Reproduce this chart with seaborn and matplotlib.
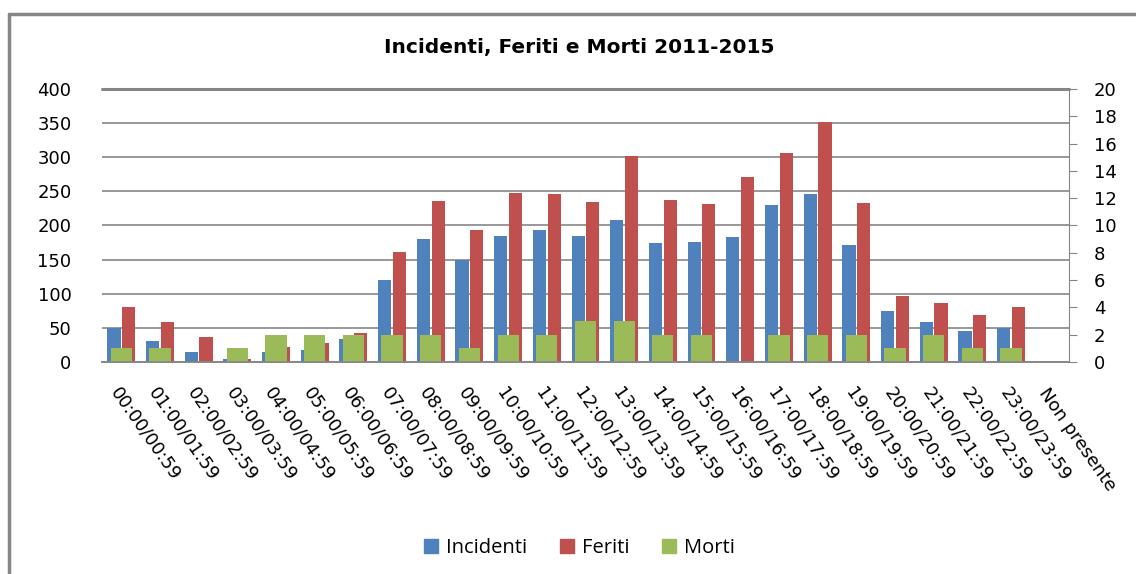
import matplotlib
matplotlib.use("Agg")
import matplotlib.pyplot as plt
import pandas as pd
import seaborn as sns
from matplotlib.lines import Line2D
from matplotlib.patches import Patch

# Fasce orarie
fasce = [
    "00:00/00:59", "01:00/01:59", "02:00/02:59", "03:00/03:59", "04:00/04:59",
    "05:00/05:59", "06:00/06:59", "07:00/07:59", "08:00/08:59", "09:00/09:59",
    "10:00/10:59", "11:00/11:59", "12:00/12:59", "13:00/13:59", "14:00/14:59",
    "15:00/15:59", "16:00/16:59", "17:00/17:59", "18:00/18:59", "19:00/19:59",
    "20:00/20:59", "21:00/21:59", "22:00/22:59", "23:00/23:59", "Non presente",
]
incidenti = [50, 31, 15, 5, 14, 18, 34, 120, 180, 150, 185, 194, 185, 208, 175,
             176, 183, 230, 246, 172, 75, 58, 46, 50, 0]
feriti = [80, 58, 36, 5, 22, 28, 43, 161, 236, 194, 248, 246, 235, 302, 238,
          232, 271, 306, 352, 233, 96, 87, 69, 80, 0]
morti = [1, 1, 0, 1, 2, 2, 2, 2, 2, 1, 2, 2, 3, 3, 2, 2, 0, 2, 2, 2, 1, 2, 1, 1, 0]

BLUE = "#4F81BD"
RED = "#C0504D"
GREEN = "#9BBB59"
GRID = "#868686"


def main():
    sns.set_style("white")
    plt.rcParams["font.family"] = ["DejaVu Sans"]
    plt.rcParams["text.color"] = "black"
    plt.rcParams["xtick.color"] = "black"
    plt.rcParams["ytick.color"] = "black"

    df = pd.DataFrame({"fascia": fasce, "Incidenti": incidenti, "Feriti": feriti})
    long_df = df.melt(id_vars="fascia", var_name="serie", value_name="valore")
    df_morti = pd.DataFrame({"fascia": fasce, "Morti": morti})

    fig = plt.figure(figsize=(11.36, 5.74), dpi=100)
    ax = fig.add_axes([0.0898, 0.3693, 0.8512, 0.4757])

    # gridlines first so bars sit on top
    for y in range(50, 400, 50):
        ax.axhline(y, color=GRID, lw=1.2, zorder=0)
    ax.axhline(400, color=GRID, lw=2.2, zorder=0, clip_on=False)

    sns.barplot(data=long_df, x="fascia", y="valore", hue="serie", order=fasce,
                palette=[BLUE, RED], width=0.76, gap=0.1, saturation=1,
                linewidth=0, legend=False, ax=ax, zorder=2)

    ax2 = ax.twinx()
    sns.barplot(data=df_morti, x="fascia", y="Morti", order=fasce, color=GREEN,
                width=0.55, saturation=1, linewidth=0, ax=ax2)

    # left axis
    ax.set_ylim(0, 400)
    ax.set_yticks(range(0, 401, 50))
    ax.set_xlim(-0.5, len(fasce) - 0.5)
    ax.set_xlabel("")
    ax.set_ylabel("")
    ax.tick_params(axis="y", length=0, pad=22, labelsize=13, labelcolor="black")

    # x axis labels and boundary ticks
    ax.set_xticks(range(len(fasce)))
    ax.set_xticklabels(fasce, rotation=-55, ha="left", va="top",
                       rotation_mode="anchor", fontsize=13, color="black")
    ax.tick_params(axis="x", length=0, pad=16)
    ax.set_xticks([i - 0.5 for i in range(len(fasce) + 1)], minor=True)
    ax.tick_params(axis="x", which="minor", length=5, color=GRID)

    # right axis
    ax2.set_ylim(0, 20)
    ax2.set_yticks(range(0, 21, 2))
    ax2.set_ylabel("")
    ax2.tick_params(axis="y", length=6, color=GRID, pad=12, labelsize=13,
                    labelcolor="black")

    for a in (ax, ax2):
        for side in ("top", "left", "right"):
            a.spines[side].set_visible(False)
        a.spines["bottom"].set_color(GRID)
        a.spines["bottom"].set_linewidth(1.2)
    ax2.spines["right"].set_visible(True)
    ax2.spines["right"].set_color(GRID)

    fig.text(0.51, 0.918, "Incidenti, Feriti e Morti 2011-2015",
             ha="center", va="center", fontsize=14.5, fontweight="bold",
             color="black")

    handles = [Patch(color=BLUE), Patch(color=RED), Patch(color=GREEN)]
    fig.legend(handles, ["Incidenti", "Feriti", "Morti"], loc="center",
               bbox_to_anchor=(0.51, 0.045), ncol=3, frameon=False,
               handlelength=0.7, handleheight=0.7, handletextpad=0.4,
               columnspacing=1.6, labelcolor="black",
               prop={"family": "Open Sans", "size": 14.5})

    # chart frame (left and top edges visible)
    fig.add_artist(Line2D([0.008, 0.008], [0.0, 0.976], color=GRID, lw=2.5,
                          transform=fig.transFigure))
    fig.add_artist(Line2D([0.008, 1.0], [0.976, 0.976], color=GRID, lw=2.5,
                          transform=fig.transFigure))

    fig.savefig("out.png", dpi=100, facecolor="white")


if __name__ == "__main__":
    main()
